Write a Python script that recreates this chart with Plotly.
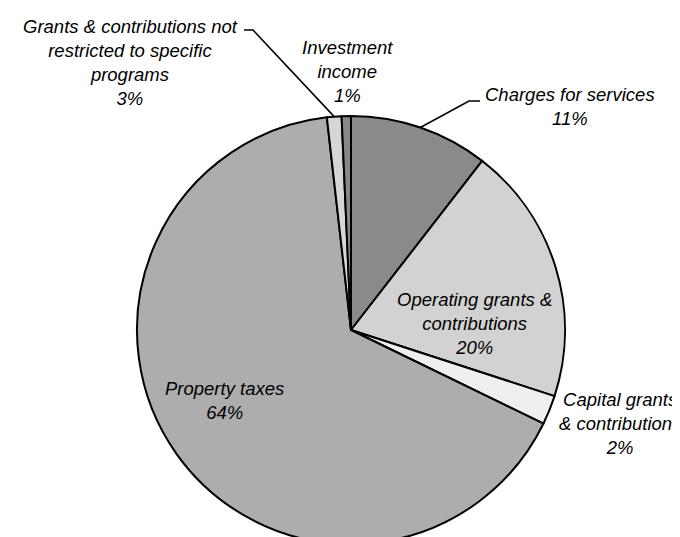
import math
import plotly.graph_objects as go

# ---- data ----
categories = [
    "Charges for services",
    "Operating grants & contributions",
    "Capital grants & contributions",
    "Property taxes",
    "Grants & contributions not restricted to specific programs",
    "Investment income",
]
# drawn slice sizes (as measured on the pie)
shares = [10.5, 19.5, 2.2, 66.0, 1.1, 0.7]
# percentages printed on the chart
pct_labels = ["11%", "20%", "2%", "64%", "3%", "1%"]
label_lines = [
    ["Charges for services"],
    ["Operating grants &", "contributions"],
    ["Capital grants", "& contributions"],
    ["Property taxes"],
    ["Grants & contributions not", "restricted to specific", "programs"],
    ["Investment", "income"],
]
colors = ["#8a8a8a", "#d2d2d2", "#efefef", "#adadad", "#d6d6d6", "#888888"]

W, H = 680, 537
CX, CY, R = 343, 322, 214  # pie centre / radius in pixels

# label centres (pixels)
label_pos = [(562, 99), (466, 315), (612, 415), (216, 392), (122, 54), (339, 63)]
# leader elbows (pixels): text end -> elbow, then to rim at slice middle
leaders = {0: [(472, 93), (461, 93)], 4: [(236, 22), (245, 22)]}

def px(x):
    return x / W

def py(y):
    return 1 - y / H

fig = go.Figure(
    go.Pie(
        labels=categories,
        values=shares,
        sort=False,
        direction="clockwise",
        rotation=0,
        textinfo="none",
        hoverinfo="label+percent",
        marker=dict(colors=colors, line=dict(color="black", width=2)),
        domain=dict(x=[px(CX - R), px(CX + R)], y=[py(CY + R), py(CY - R)]),
        showlegend=False,
    )
)

total = sum(shares)
cum = 0.0
shapes = []
annotations = []
for i, v in enumerate(shares):
    mid = (cum + v / 2) / total * 2 * math.pi
    cum += v
    rx = CX + R * math.sin(mid)
    ry = CY - R * math.cos(mid)
    lines = label_lines[i] + [pct_labels[i]]
    text = "<br>".join(f"<i>{t}</i>" for t in lines)
    lx, ly = label_pos[i]
    annotations.append(
        dict(
            x=px(lx), y=py(ly), xref="paper", yref="paper",
            text=text, showarrow=False, align="center",
            xanchor="center", yanchor="middle",
            font=dict(family="Liberation Sans, Arial, sans-serif", size=18.5, color="black"),
        )
    )
    if i in leaders:
        pts = leaders[i] + [(rx, ry)]
        path = "M " + " L ".join(f"{px(a)},{py(b)}" for a, b in pts)
        shapes.append(dict(type="path", path=path, xref="paper", yref="paper",
                           line=dict(color="black", width=1.6)))

fig.update_layout(
    width=W, height=H,
    margin=dict(l=0, r=0, t=0, b=0),
    paper_bgcolor="white", plot_bgcolor="white",
    annotations=annotations, shapes=shapes,
)

fig.write_html("out.html")
